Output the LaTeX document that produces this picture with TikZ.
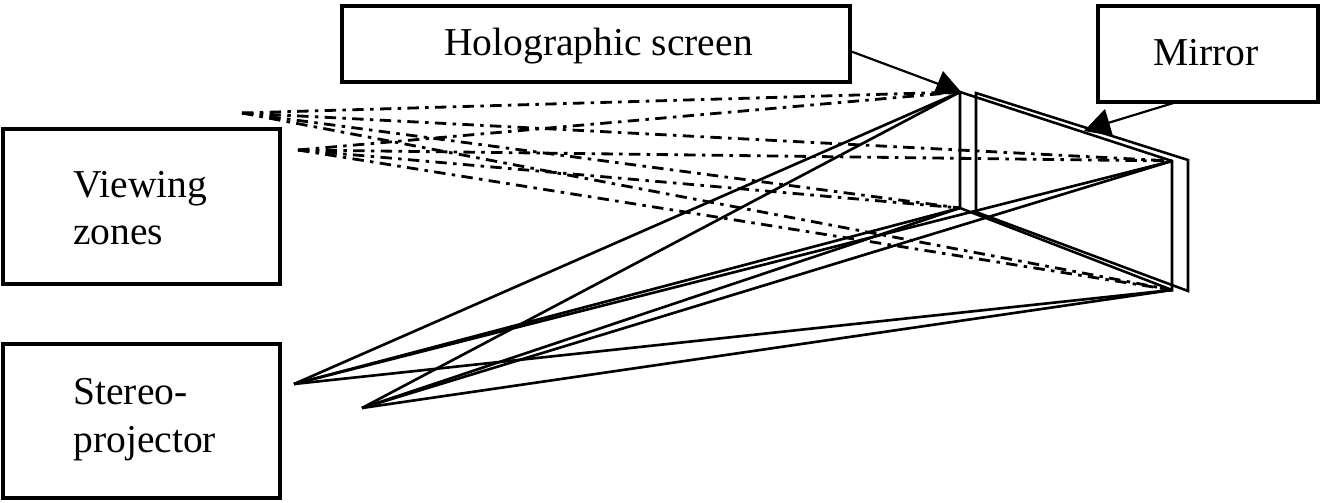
\documentclass[tikz,border=0pt]{standalone}
\usepackage{fontspec}
\setmainfont{Liberation Serif}
\tikzset{
  px/.style={x=0.02cm,y=-0.02cm},
  labelbox/.style={draw=black,line width=2pt,inner sep=0pt},
  lbl/.style={font=\fontsize{22.5}{22.5}\selectfont,inner sep=0pt,anchor=base west},
  ray/.style={draw=black,line width=1.5pt},
  viewray/.style={draw=black,line width=1.6pt,dash pattern=on 6.5pt off 3.6pt on 2pt off 3.6pt},
  edge/.style={draw=black,line width=1.45pt},
  leader/.style={draw=black,line width=1.25pt},
  head/.style={fill=black,draw=none}
}
\begin{document}
\begin{tikzpicture}[px]
\useasboundingbox (0,0) rectangle (1320,503);
\fill[white] (0,0) rectangle (1320,503);
% boxes
\draw[labelbox] (342,6) rectangle (850,82);
\draw[labelbox] (1098,6) rectangle (1318,102);
\draw[labelbox] (3,129) rectangle (280,284);
\draw[labelbox] (3,344) rectangle (280,498);
\node[lbl] (holo) at (444,56) {Holographic screen};
\node[lbl] (mir) at (1153,66) {Mirror};
\node[lbl] (v1t) at (73,198) {Viewing};
\node[lbl] (v2t) at (73,245) {zones};
\node[lbl] (s1t) at (73,405) {Stereo-};
\node[lbl] (s2t) at (73,453) {projector};
% corners
\coordinate (st) at (960,92);
\coordinate (sb) at (960,208);
\coordinate (rt) at (1172,161);
\coordinate (rb) at (1172,290);
\coordinate (mt) at (976,93);
\coordinate (mb) at (976,212);
\coordinate (nt) at (1188,160);
\coordinate (nb) at (1188,291);
\coordinate (pa) at (294,384);
\coordinate (pb) at (362,408);
\coordinate (va) at (242,113);
\coordinate (vb) at (298,150);
% view rays
\foreach \v in {va,vb}\foreach \c in {st,sb,rt,rb}
  \draw[viewray] (\v) -- (\c);
% projector rays
\foreach \p in {pa,pb}\foreach \c in {st,sb,rt,rb}
  \draw[ray] (\p) -- (\c);
% screen and mirror
\draw[edge] (st) -- (rt) -- (rb) -- (sb) -- cycle;
\draw[edge] (mt) -- (nt) -- (nb) -- (mb) -- cycle;
% leaders
\coordinate (hl) at (850,51);
\coordinate (ml) at (1180,101);
\coordinate (mtip) at (1108,123);
\draw[leader] (hl) -- (st);
\draw[leader] (ml) -- (mtip);
\fill[head] (962,93) -- (943,71) -- (933,95) -- cycle;
\fill[head] (1105,109) -- (1084,131) -- (1113,136) -- cycle;
\end{tikzpicture}
\end{document}
